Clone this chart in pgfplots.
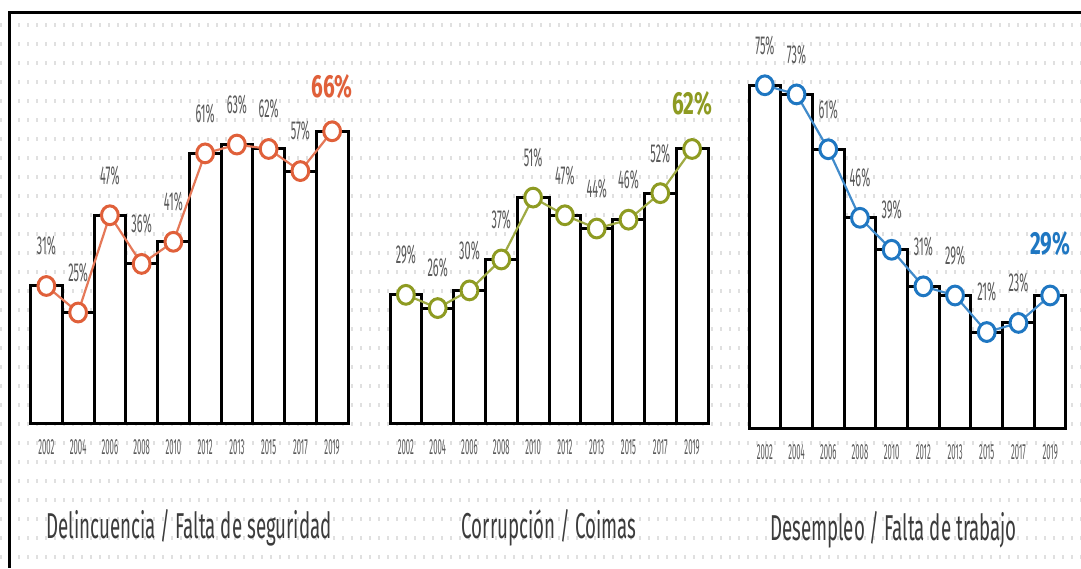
\documentclass[border=0pt]{standalone}
\usepackage{fontspec}
\usepackage{pgfplots}
\usepackage{pgfplotstable}
\pgfplotsset{compat=1.18}
\setmainfont{Fira Sans}
\newfontfamily\cond{Fira Sans}[FakeStretch=0.42]
\newfontfamily\condt{Fira Sans}[FakeStretch=0.52]
\newfontfamily\condy{Fira Sans}[FakeStretch=0.35]
\newfontfamily\condb{Fira Sans}[FakeStretch=0.65]

\definecolor{delin}{HTML}{E0603A}
\definecolor{corru}{HTML}{8E9B22}
\definecolor{desem}{HTML}{1F77C2}
\definecolor{lbl}{HTML}{5A5A5A}
\definecolor{ttl}{HTML}{3C3C3C}

% x = position of the year, y = percent
\pgfplotstableread{
x y
0 31
1 25
2 47
3 36
4 41
5 61
6 63
7 62
8 57
9 66
}\delin
\pgfplotstableread{
x y
0 29
1 26
2 30
3 37
4 51
5 47
6 44
7 46
8 52
9 62
}\corru
\pgfplotstableread{
x y
0 75
1 73
2 61
3 46
4 39
5 31
6 29
7 21
8 23
9 29
}\desem

\pgfplotsset{
  panel/.style={
    scale only axis, anchor=south west, clip=false,
    xmin=-0.5, xmax=9.5, ymin=0, ymax=80,
    axis line style={draw=none},
    major tick length=0pt,
    ytick=\empty,
    xtick={0,1,2,3,4,5,6,7,8,9},
    xticklabels={2002,2004,2006,2008,2010,2012,2013,2015,2017,2019},
    xticklabel style={font=\condy\fontsize{11}{12}\selectfont, text=lbl, anchor=center, yshift=-12pt},
    xlabel style={at={(axis description cs:0.5,0)}, anchor=center, yshift=-52.5pt,
      font=\condt\fontsize{18}{20}\selectfont, text=ttl},
  },
  bars/.style={ybar, bar width=1, draw=black, fill=white, line width=1.5pt},
  trend/.style={color=#1!85, line width=1.1pt, mark=*, mark size=4.2pt,
    mark options={draw=#1, fill=white, line width=1.5pt, yscale=1.12}},
  vals/.style={draw=none, restrict x to domain=0:8, point meta=y,
    nodes near coords={\pgfmathprintnumber[assume math mode=true]{\pgfplotspointmeta}\%},
    nodes near coords style={font=\cond\fontsize{13}{14}\selectfont, text=lbl, anchor=center, yshift=20pt}},
  last/.style={draw=none, restrict x to domain=9:9, point meta=y,
    nodes near coords={\pgfmathprintnumber[assume math mode=true]{\pgfplotspointmeta}\%},
    nodes near coords style={font=\condb\bfseries\fontsize{16}{17}\selectfont, text=#1, anchor=center, yshift=22.5pt}},
}

\begin{document}
\begin{tikzpicture}
\begin{scope}[x=0.5pt, y=-0.5pt]
\fill[white] (0,0) rectangle (1081,568);
\path[use as bounding box] (0,0) rectangle (1081,568);
\foreach \r in {0,...,28}
  \draw[black!12, line width=2pt, dash pattern=on 1pt off 3.5pt] (0,{25+19*\r}) -- (1081,{25+19*\r});
\draw[line width=1.5pt] (8,12.5) -- (1081,12.5);
\draw[line width=1.5pt] (9.5,11) -- (9.5,568);
\coordinate (p1) at (30.5,423);
\coordinate (p2) at (390,423);
\coordinate (p3) at (749,428);
\end{scope}

\begin{axis}[panel, at={(p1)}, width=158.75pt, height=176.8pt,
  xlabel={Delincuencia / Falta de seguridad}]
\addplot[bars] table {\delin};
\addplot[trend=delin] table {\delin};
\addplot[vals] table {\delin};
\addplot[last=delin] table {\delin};
\end{axis}

\begin{axis}[panel, at={(p2)}, width=159pt, height=176.8pt,
  xlabel={Corrupción / Coimas}]
\addplot[bars] table {\corru};
\addplot[trend=corru] table {\corru};
\addplot[vals] table {\corru};
\addplot[last=corru] table {\corru};
\end{axis}

\begin{axis}[panel, at={(p3)}, width=158.5pt, height=182.8pt,
  xlabel={Desempleo / Falta de trabajo},
  xlabel style={yshift=1.5pt, xshift=-7pt}]
\addplot[bars] table {\desem};
\addplot[trend=desem] table {\desem};
\addplot[vals] table {\desem};
\addplot[last=desem, nodes near coords style={yshift=3.5pt}] table {\desem};
\end{axis}
\end{tikzpicture}
\end{document}
